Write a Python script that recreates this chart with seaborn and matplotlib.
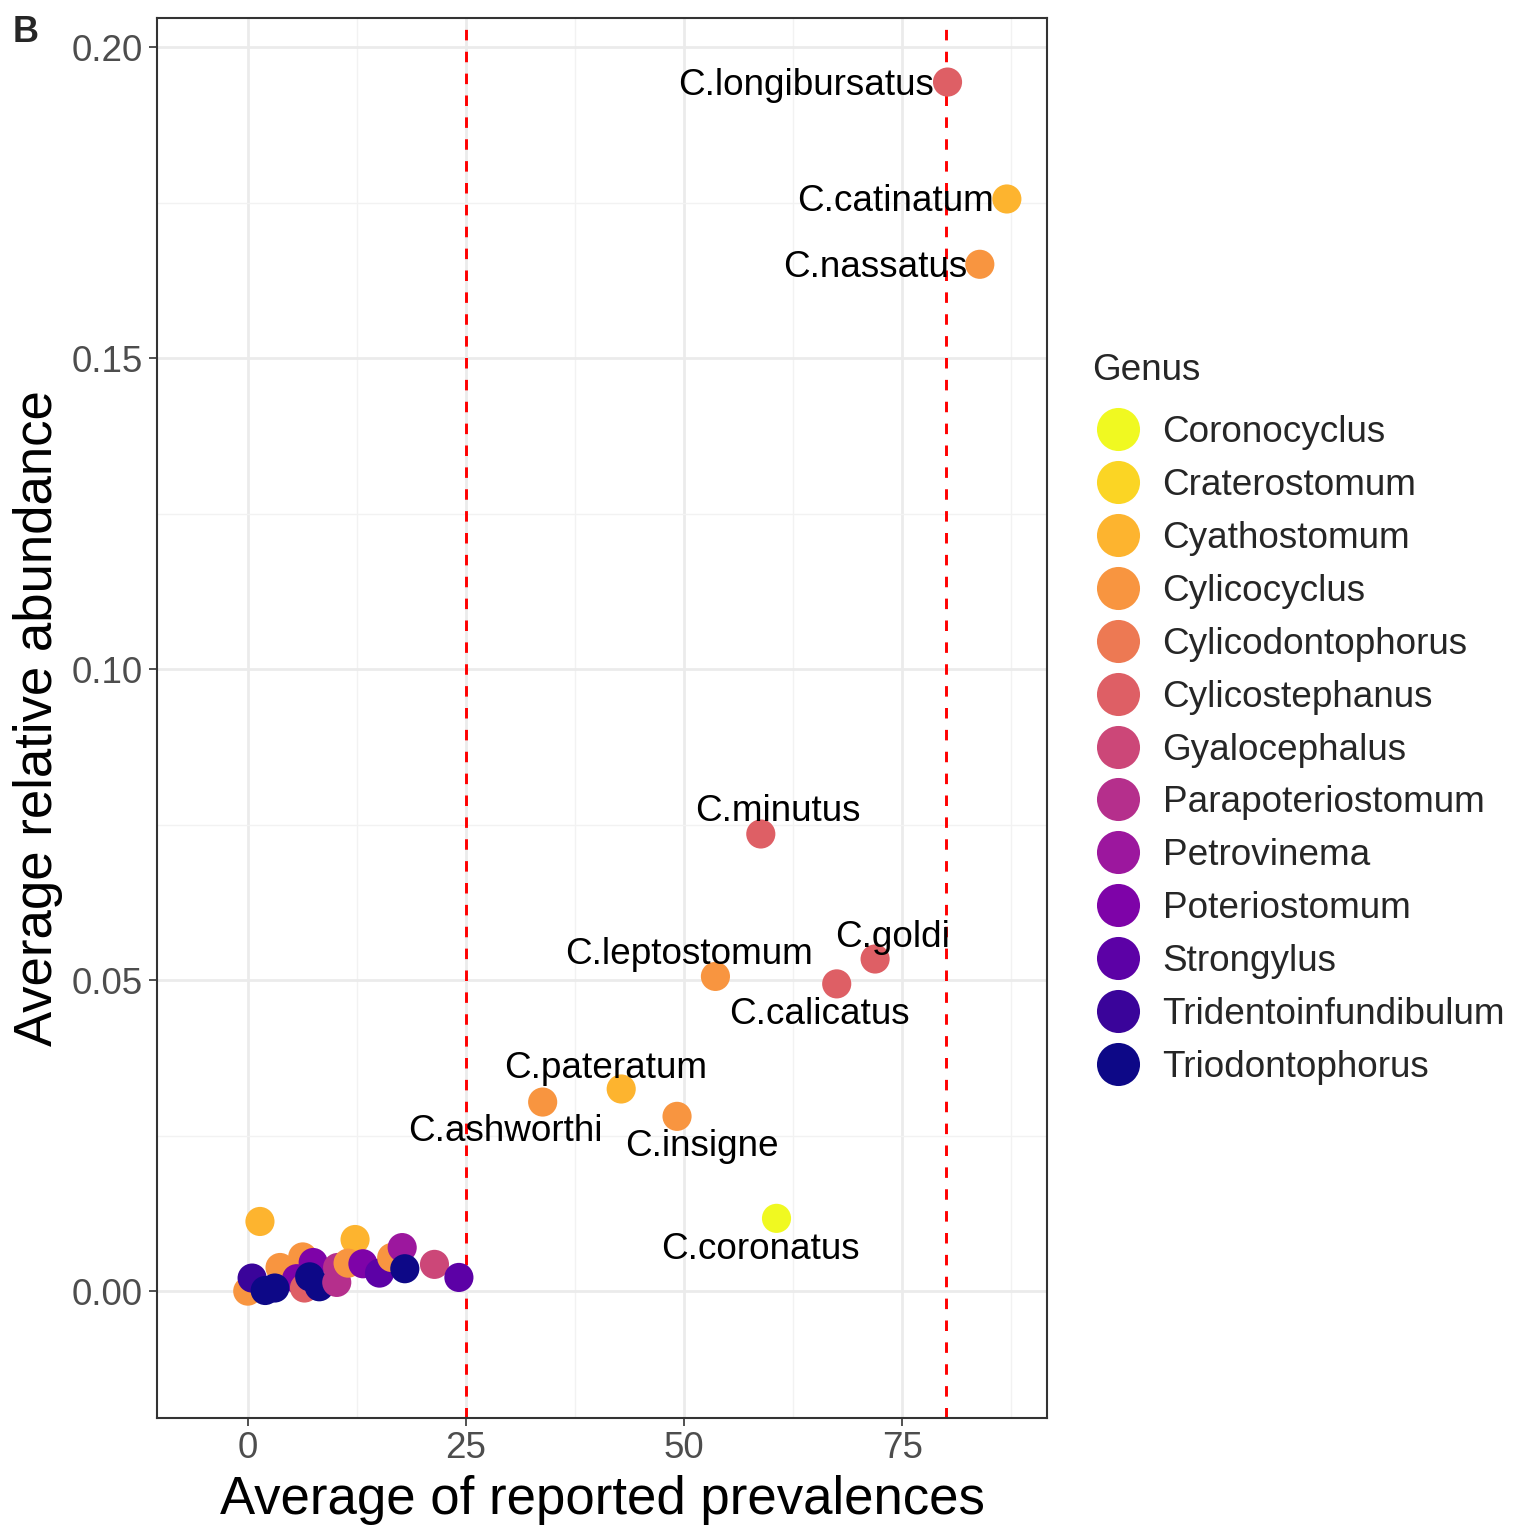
import numpy as np
import pandas as pd
import matplotlib
matplotlib.use("Agg")
import matplotlib.pyplot as plt
from matplotlib.lines import Line2D
import seaborn as sns

genera = ["Coronocyclus", "Craterostomum", "Cyathostomum", "Cylicocyclus",
          "Cylicodontophorus", "Cylicostephanus", "Gyalocephalus",
          "Parapoteriostomum", "Petrovinema", "Poteriostomum", "Strongylus",
          "Tridentoinfundibulum", "Triodontophorus"]

# species points: genus, prevalence, abundance, label ('' = unlabeled)
point_genus = ["Cylicocyclus", "Tridentoinfundibulum", "Cyathostomum", "Cylicocyclus",
               "Cylicocyclus", "Poteriostomum", "Poteriostomum", "Cylicostephanus",
               "Triodontophorus", "Triodontophorus", "Triodontophorus", "Triodontophorus",
               "Parapoteriostomum", "Parapoteriostomum", "Cyathostomum", "Cylicocyclus",
               "Poteriostomum", "Strongylus", "Cylicocyclus", "Petrovinema",
               "Triodontophorus", "Gyalocephalus", "Strongylus",
               "Cylicostephanus", "Cyathostomum", "Cylicocyclus", "Cylicostephanus",
               "Cylicostephanus", "Cylicostephanus", "Cylicocyclus", "Cyathostomum",
               "Cylicocyclus", "Cylicocyclus", "Coronocyclus"]
prevalence = [0.0, 0.5, 1.4, 3.7,
              6.3, 7.5, 5.6, 6.5,
              2.0, 3.1, 7.1, 8.2,
              10.2, 10.3, 12.3, 11.5,
              13.2, 15.1, 16.5, 17.7,
              18.0, 21.4, 24.2,
              80.2, 87.0, 83.9, 58.8,
              71.9, 67.5, 53.6, 42.8,
              33.8, 49.2, 60.6]
abundance = [0.0000, 0.0021, 0.0112, 0.0038,
             0.0055, 0.0046, 0.0020, 0.0005,
             0.0001, 0.0005, 0.0023, 0.0007,
             0.0014, 0.0038, 0.0083, 0.0045,
             0.0044, 0.0029, 0.0054, 0.0070,
             0.0036, 0.0043, 0.0022,
             0.1944, 0.1756, 0.1651, 0.0735,
             0.0534, 0.0494, 0.0506, 0.0325,
             0.0304, 0.0281, 0.0117]
labels = [""] * 23 + ["C.longibursatus", "C.catinatum", "C.nassatus", "C.minutus",
                      "C.goldi", "C.calicatus", "C.leptostomum", "C.pateratum",
                      "C.ashworthi", "C.insigne", "C.coronatus"]
# label offsets in pixels (dx, dy) relative to point
label_offsets = {"C.longibursatus": (-141, -3), "C.catinatum": (-111, -3),
                 "C.nassatus": (-105, -3), "C.minutus": (17, 22),
                 "C.goldi": (17, 22), "C.calicatus": (-17, -31),
                 "C.leptostomum": (-26, 22), "C.pateratum": (-16, 20),
                 "C.ashworthi": (-37, -29), "C.insigne": (25, -30),
                 "C.coronatus": (-16, -31)}
vlines = [25, 80]

df = pd.DataFrame({"Genus": point_genus, "prev": prevalence, "abund": abundance, "label": labels})

colors = plt.cm.plasma(np.linspace(0, 1, len(genera)))[::-1]
palette = dict(zip(genera, colors))

sns.set_theme(style="white")
plt.rcParams["font.family"] = ["Liberation Sans", "DejaVu Sans"]

fig = plt.figure(figsize=(15.14, 15.25), dpi=100)
ax = fig.add_axes([157/1514, 107/1525, 890/1514, 1400/1525])

ax.set_xticks([0, 25, 50, 75])
ax.set_xticks([12.5, 37.5, 62.5, 87.5], minor=True)
ax.set_yticks([0.0, 0.05, 0.10, 0.15, 0.20])
ax.set_yticks([0.025, 0.075, 0.125, 0.175], minor=True)
ax.set_yticklabels(["0.00", "0.05", "0.10", "0.15", "0.20"])
ax.grid(True, which="major", color="#EBEBEB", linewidth=2.0, zorder=0)
ax.grid(True, which="minor", color="#F2F2F2", linewidth=1.0, zorder=0)
ax.set_axisbelow(True)

for v in vlines:
    ax.axvline(v, color="#FF0000", linestyle=(0, (3.6, 3.9)), linewidth=2.1, zorder=1)

sns.scatterplot(data=df, x="prev", y="abund", hue="Genus", hue_order=genera,
                palette=palette, s=440, linewidth=0, alpha=1, legend=False, ax=ax, zorder=3)

ax.set_xlim(-10.4, 91.6)
ax.set_ylim(-0.0204, 0.2047)

for _, r in df[df["label"] != ""].iterrows():
    dx, dy = label_offsets[r["label"]]
    ax.annotate(r["label"], (r["prev"], r["abund"]), xytext=(dx, dy),
                textcoords="offset pixels", ha="center", va="center",
                fontsize=26.6, color="black", zorder=4)

for sp in ax.spines.values():
    sp.set_color("#333333")
    sp.set_linewidth(1.5)
ax.tick_params(axis="both", which="major", length=5.5, width=1.2, color="#333333",
               labelsize=26.5, labelcolor="#4D4D4D", pad=5, bottom=True, left=True)
ax.tick_params(axis="x", which="major", pad=4)
ax.tick_params(axis="both", which="minor", length=0)
ax.set_xlabel("Average of reported prevalences", fontsize=38, color="black", labelpad=6)
ax.set_ylabel("Average relative abundance", fontsize=38, color="black", labelpad=6)

fig.text(13/1514, 1 - 32/1525, "B", fontsize=26, fontweight="bold", ha="left", va="center")

fig.text(1092/1514, 1 - 370/1525, "Genus", fontsize=26.6, ha="left", va="center")
handles = [Line2D([0], [0], marker="o", linestyle="", markersize=31,
                  markerfacecolor=palette[g], markeredgewidth=0) for g in genera]
leg = fig.legend(handles, genera, loc="upper left",
                 bbox_to_anchor=(1092/1514, 1 - 415/1525), frameon=False,
                 fontsize=26.6, handlelength=1.4, handletextpad=0.51, labelspacing=0.485,
                 borderpad=0, borderaxespad=0)

fig.savefig("out.png", dpi=100)
